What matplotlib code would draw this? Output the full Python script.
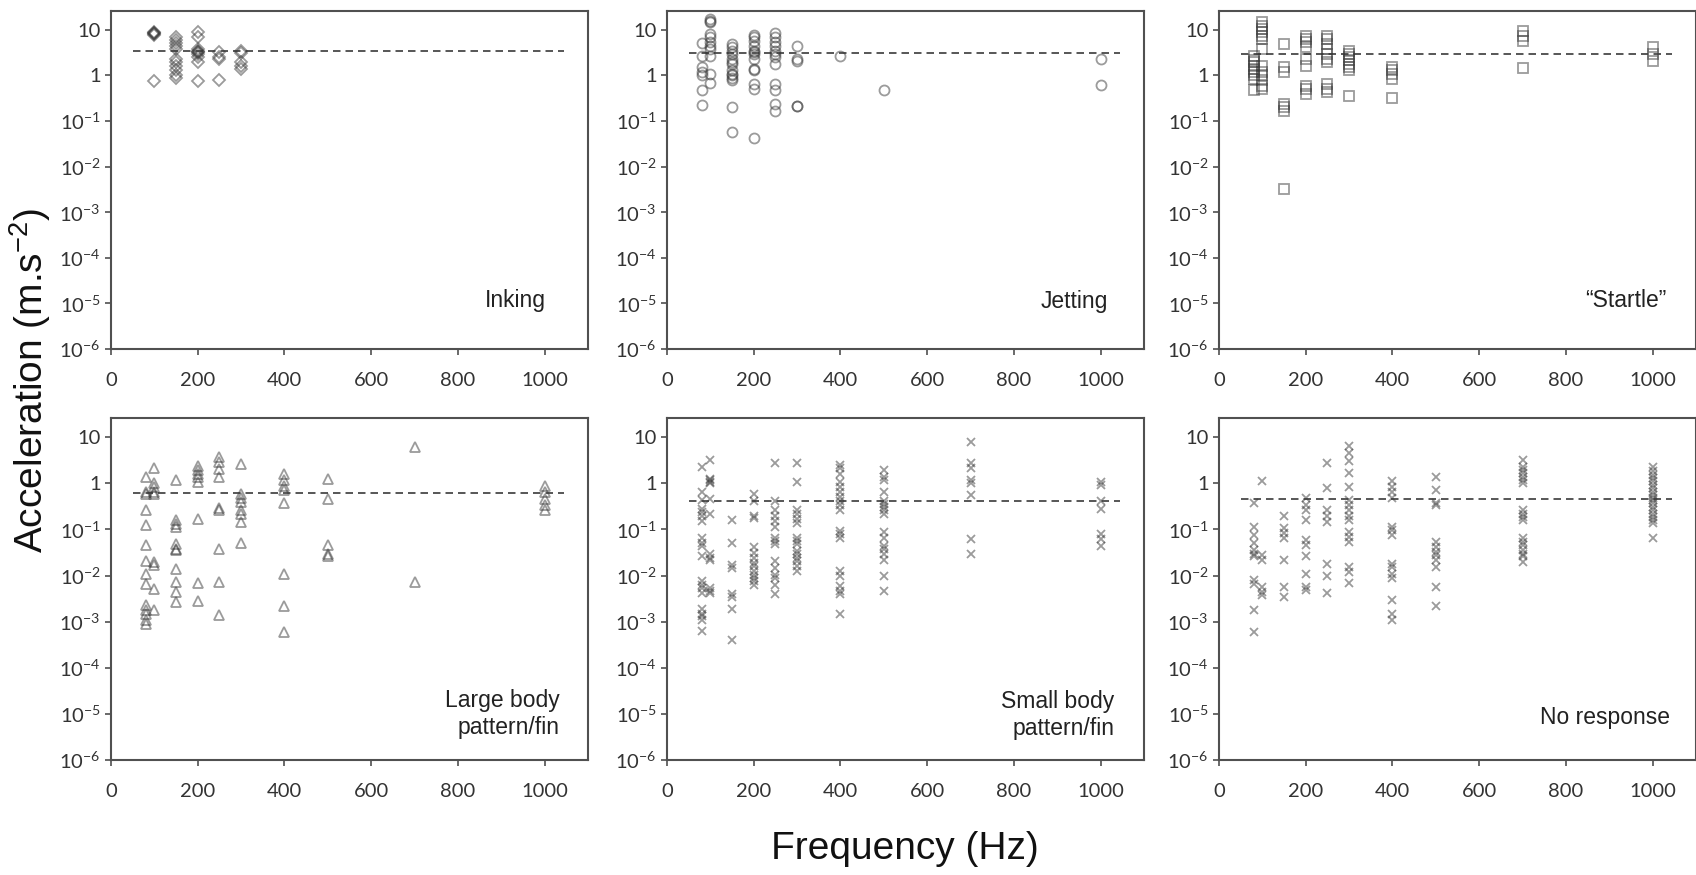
import matplotlib
matplotlib.use("Agg")
import matplotlib.pyplot as plt
from matplotlib.ticker import FixedLocator, NullLocator

# ---------------- data (frequency Hz -> accelerations m/s^2) ----------------
inking = {
    100: [9.0, 8.7, 8.5, 8.2, 7.6, 0.74],
    150: [6.9, 6.0, 5.2, 4.5, 3.8, 2.3, 1.96, 1.65, 1.3, 1.0, 0.9],
    200: [9.2, 6.9, 3.8, 3.5, 3.3, 3.2, 3.0, 2.5, 1.96, 0.74],
    250: [3.2, 2.5, 2.3, 0.78],
    300: [3.4, 3.1, 1.96, 1.65, 1.4],
}
jetting = {
    80: [5.2, 2.7, 1.5, 1.2, 1.0, 0.47, 0.23],
    100: [17, 16, 14.7, 8.2, 6.9, 5.4, 4.5, 3.8, 2.7, 1.1, 0.68],
    150: [4.9, 4.2, 3.5, 2.9, 2.3, 2.0, 1.8, 1.3, 1.1, 1.0, 0.9, 0.78, 0.2, 0.059],
    200: [7.9, 6.9, 5.8, 4.5, 3.5, 3.3, 3.0, 2.3, 1.4, 1.3, 0.66, 0.51, 0.043],
    250: [8.6, 7.1, 5.4, 4.5, 3.5, 3.0, 2.5, 1.8, 0.66, 0.47, 0.24, 0.17],
    300: [4.5, 2.3, 2.1, 0.21, 0.21],
    400: [2.7],
    500: [0.49],
    1000: [2.3, 0.62],
}
startle = {
    80: [2.7, 2.2, 1.95, 1.65, 1.4, 1.2, 1.0, 0.85, 0.47],
    100: [14.7, 12.4, 10.5, 8.9, 7.5, 6.3, 3.8, 1.65, 1.2, 1.0, 0.78, 0.6, 0.51],
    150: [4.9, 1.5, 1.2, 0.24, 0.2, 0.17, 0.0033],
    200: [7.5, 6.3, 5.4, 4.2, 2.3, 1.65, 0.6, 0.51, 0.4],
    250: [7.5, 6.3, 4.9, 3.8, 3.0, 2.3, 2.0, 0.66, 0.51, 0.43],
    300: [3.5, 3.0, 2.5, 2.2, 1.8, 1.5, 1.3, 0.35],
    400: [1.5, 1.3, 1.1, 0.85, 0.32],
    700: [9.7, 7.5, 5.8, 1.45],
    1000: [4.2, 3.0, 2.1],
}
large_body = {
    80: [1.4, 0.64, 0.59, 0.26, 0.126, 0.045, 0.021, 0.011, 0.0066, 0.0023,
         0.0018, 0.0015, 0.0011, 0.00088],
    100: [2.1, 1.0, 0.83, 0.64, 0.59, 0.0196, 0.0166, 0.0051, 0.0018],
    150: [1.2, 0.16, 0.13, 0.11, 0.049, 0.038, 0.035, 0.014, 0.0072, 0.0044, 0.0027],
    200: [2.4, 1.9, 1.6, 1.35, 1.06, 0.17, 0.0069, 0.0028],
    250: [3.8, 2.9, 2.05, 1.35, 0.29, 0.26, 0.038, 0.0072, 0.0014],
    300: [2.6, 0.59, 0.49, 0.39, 0.26, 0.22, 0.148, 0.05],
    400: [1.6, 1.15, 0.87, 0.7, 0.37, 0.011, 0.0022, 0.0006],
    500: [1.26, 0.46, 0.045, 0.03, 0.027],
    700: [6.1, 0.0072],
    1000: [0.87, 0.64, 0.46, 0.33, 0.26],
}
small_body = {
    80: [2.3, 0.65, 0.43, 0.28, 0.24, 0.2, 0.155, 0.066, 0.05, 0.044, 0.026,
         0.0075, 0.0063, 0.0054, 0.0042, 0.0019, 0.0015, 0.0013, 0.0011, 0.00063],
    100: [3.2, 1.26, 1.16, 1.07, 0.99, 0.46, 0.22, 0.029, 0.024, 0.022,
          0.0054, 0.0046, 0.0042],
    150: [0.16, 0.05, 0.017, 0.0146, 0.0039, 0.0035, 0.0019, 0.0004],
    200: [0.59, 0.42, 0.2, 0.18, 0.041, 0.031, 0.024, 0.019, 0.016, 0.0125,
          0.0103, 0.0088, 0.0075, 0.0063],
    250: [2.7, 0.42, 0.26, 0.2, 0.155, 0.11, 0.066, 0.056, 0.048, 0.021,
          0.0146, 0.0103, 0.0088, 0.0063, 0.0039],
    300: [2.7, 1.07, 0.26, 0.22, 0.17, 0.14, 0.066, 0.056, 0.048, 0.034,
          0.029, 0.024, 0.021, 0.016, 0.0125],
    400: [2.5, 2.1, 1.6, 1.07, 0.83, 0.65, 0.5, 0.42, 0.33, 0.26, 0.094,
          0.079, 0.066, 0.0125, 0.0098, 0.0059, 0.0046, 0.0039, 0.0015],
    500: [1.9, 1.4, 1.2, 0.65, 0.42, 0.36, 0.3, 0.26, 0.22, 0.086, 0.066,
          0.044, 0.037, 0.029, 0.022, 0.0096, 0.0047],
    700: [8.0, 2.7, 2.1, 1.16, 0.99, 0.55, 0.062, 0.029],
    1000: [1.07, 0.91, 0.42, 0.28, 0.079, 0.062, 0.044],
}
no_response = {
    80: [0.37, 0.115, 0.076, 0.05, 0.036, 0.03, 0.026, 0.0079, 0.0067, 0.0018, 0.0006],
    100: [1.1, 0.028, 0.022, 0.0057, 0.0045, 0.0038],
    150: [0.2, 0.105, 0.082, 0.064, 0.022, 0.0057, 0.0034],
    200: [0.48, 0.34, 0.26, 0.16, 0.059, 0.046, 0.026, 0.011, 0.0057, 0.0048],
    250: [2.7, 0.78, 0.26, 0.2, 0.145, 0.018, 0.01, 0.0041],
    300: [6.3, 4.5, 3.0, 1.65, 0.85, 0.43, 0.34, 0.26, 0.2, 0.16, 0.089,
          0.069, 0.054, 0.0155, 0.012, 0.0068],
    400: [1.1, 0.85, 0.66, 0.48, 0.115, 0.098, 0.076, 0.018, 0.0155, 0.011,
          0.0088, 0.0029, 0.0015, 0.0011],
    500: [1.4, 0.72, 0.37, 0.34, 0.054, 0.042, 0.033, 0.028, 0.022, 0.0155,
          0.0057, 0.0022],
    700: [3.2, 2.3, 1.95, 1.65, 1.4, 1.18, 1.0, 0.26, 0.22, 0.19, 0.16,
          0.064, 0.054, 0.046, 0.036, 0.03, 0.026, 0.02],
    1000: [2.3, 1.8, 1.5, 1.3, 1.1, 0.92, 0.78, 0.66, 0.56, 0.48, 0.43, 0.37,
           0.31, 0.26, 0.22, 0.19, 0.16, 0.135, 0.064],
}

panel_data = [inking, jetting, startle, large_body, small_body, no_response]
panel_names = ["Inking", "Jetting", "\u201cStartle\u201d",
               "Large body\npattern/fin", "Small body\npattern/fin", "No response"]
panel_markers = ["D", "o", "s", "^", "x", "x"]
thresholds = [3.4, 3.1, 3.0, 0.61, 0.41, 0.45]

x_ticks = [0, 200, 400, 600, 800, 1000]
y_ticks = [1e-6, 1e-5, 1e-4, 1e-3, 1e-2, 1e-1, 1, 10]
y_tick_labels = [r"$\mathregular{10^{-6}}$", r"$\mathregular{10^{-5}}$",
                 r"$\mathregular{10^{-4}}$", r"$\mathregular{10^{-3}}$",
                 r"$\mathregular{10^{-2}}$", r"$\mathregular{10^{-1}}$", "1", "10"]

# ---------------- styling ----------------
W, H = 1696, 875
fig = plt.figure(figsize=(W / 100, H / 100), dpi=100)

col_left = [111, 667, 1219]
col_width = 477
row_top = [11, 418]
row_bottom = [349, 760]

spine_col = "#505050"
text_col = "#333333"
tick_font = "Lato"
label_font = "Liberation Sans"

marker_sizes = {"D": 6.0, "o": 7.2, "s": 7.0, "^": 7.4, "x": 6.0}
label_x = [1004, 1018, 1033, 1034, 1031, 1041]
label_logy = [-4.93, -4.95, -4.93, -5.0, -5.02, -5.07]

for i, data in enumerate(panel_data):
    r, c = divmod(i, 3)
    l = col_left[c] / W
    b = 1 - row_bottom[r] / H
    h = (row_bottom[r] - row_top[r]) / H
    ax = fig.add_axes([l, b, col_width / W, h])
    ax.set_yscale("log")
    ax.set_xlim(0, 1100)
    ax.set_ylim(1e-6, 26)

    m = panel_markers[i]
    for f, vals in data.items():
        ax.plot([f] * len(vals), vals, linestyle="none", marker=m,
                markersize=marker_sizes[m], markerfacecolor="none",
                markeredgecolor=(0.22, 0.22, 0.22, 0.5),
                markeredgewidth=1.3, zorder=3)

    ax.hlines(thresholds[i], 50, 1045, colors="#3a3a3a", linewidth=1.2,
              linestyles=(0, (4.5, 3.0)), zorder=2)

    ax.text(label_x[i], 10 ** label_logy[i], panel_names[i], ha="right",
            va="center", fontsize=16.5, family=label_font, color="#222222",
            linespacing=1.25, multialignment="right")

    ax.xaxis.set_major_locator(FixedLocator(x_ticks))
    ax.set_xticklabels([str(t) for t in x_ticks])
    ax.yaxis.set_major_locator(FixedLocator(y_ticks))
    ax.yaxis.set_minor_locator(NullLocator())
    ax.set_yticklabels(y_tick_labels)
    ax.tick_params(axis="both", which="major", direction="out", length=4.5,
                   width=1.2, color=spine_col, labelcolor=text_col,
                   labelsize=14.5)
    ax.tick_params(axis="x", pad=12)
    ax.tick_params(axis="y", pad=3)
    for lab in ax.get_xticklabels() + ax.get_yticklabels():
        lab.set_family(tick_font)
    for sp in ax.spines.values():
        sp.set_color(spine_col)
        sp.set_linewidth(1.5)

fig.text(905 / W, 1 - 849 / H, "Frequency (Hz)", ha="center", va="center",
         fontsize=28, family=label_font, color="#111111")
fig.text(30 / W, 1 - 380 / H, r"Acceleration (m.s$\mathregular{^{-2}}$)",
         ha="center", va="center", rotation=90, fontsize=28,
         family=label_font, color="#111111")

fig.savefig("out.png", dpi=100)
